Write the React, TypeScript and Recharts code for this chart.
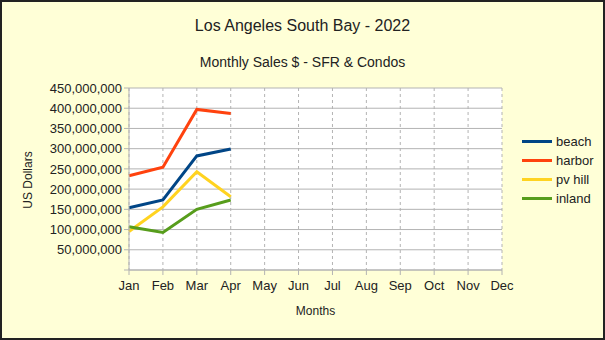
import { LineChart, Line, XAxis, YAxis, CartesianGrid } from 'recharts'

const months = ['Jan', 'Feb', 'Mar', 'Apr', 'May', 'Jun', 'Jul', 'Aug', 'Sep', 'Oct', 'Nov', 'Dec']
const beach = [154000000, 173000000, 282000000, 299000000]
const harbor = [233000000, 254000000, 397000000, 387000000]
const pvHill = [95000000, 156000000, 243000000, 181000000]
const inland = [107000000, 93000000, 150000000, 173000000]
const yTicks = [0, 50000000, 100000000, 150000000, 200000000, 250000000, 300000000, 350000000, 400000000, 450000000]

const seriesList = [
  { key: 'beach', name: 'beach', color: '#004586', values: beach },
  { key: 'harbor', name: 'harbor', color: '#ff420e', values: harbor },
  { key: 'pvhill', name: 'pv hill', color: '#ffd320', values: pvHill },
  { key: 'inland', name: 'inland', color: '#579d1c', values: inland },
]

const data = months.map((m, i) => {
  const row: Record<string, string | number | null> = { month: m }
  seriesList.forEach((s) => {
    row[s.key] = i < s.values.length ? s.values[i] : null
  })
  return row
})

const font = '"Liberation Sans", Arial, sans-serif'
const bg = '#ffffd7'

function LegendBox() {
  return (
    <div style={{ position: 'absolute', left: 522, top: 132, fontSize: 13, color: '#222' }}>
      {seriesList.map((s) => (
        <div key={s.key} style={{ display: 'flex', alignItems: 'center', height: 19 }}>
          <span style={{ display: 'inline-block', width: 30, height: 3, background: s.color, marginRight: 4 }} />
          <span>{s.name}</span>
        </div>
      ))}
    </div>
  )
}

export default function App() {
  return (
    <div style={{ position: 'absolute', left: 0, top: 0, width: 605, height: 340, background: bg, fontFamily: font }}>
      <div style={{ position: 'absolute', top: 17, width: 605, textAlign: 'center', fontSize: 16, color: '#222' }}>
        Los Angeles South Bay - 2022
      </div>
      <div style={{ position: 'absolute', top: 54, width: 605, textAlign: 'center', fontSize: 14, color: '#222' }}>
        Monthly Sales $ - SFR &amp; Condos
      </div>
      <div style={{ position: 'absolute', top: 304, left: 129, width: 373, textAlign: 'center', fontSize: 12, color: '#222' }}>
        Months
      </div>
      <div
        style={{
          position: 'absolute', left: 28, top: 180, fontSize: 12, color: '#222', whiteSpace: 'nowrap',
          transform: 'translate(-50%, -50%) rotate(-90deg)',
        }}
      >
        US Dollars
      </div>
      <LineChart width={605} height={340} data={data} margin={{ top: 88, right: 103, bottom: 0, left: 0 }}>
        <CartesianGrid horizontal vertical={false} stroke="#b3b3b3" fill="#ffffff" />
        <CartesianGrid horizontal={false} vertical stroke="#b3b3b3" strokeDasharray="3 3" />
        <XAxis
          dataKey="month"
          height={70}
          interval={0}
          stroke="#b3b3b3"
          tick={{ fill: '#222', fontSize: 13, fontFamily: font }}
          tickSize={5}
          tickMargin={6}
        />
        <YAxis
          width={129}
          domain={[0, 450000000]}
          ticks={yTicks}
          interval={0}
          stroke="#b3b3b3"
          tickSize={5}
          tick={{ fill: '#222', fontSize: 13, fontFamily: font }}
          tickFormatter={(v: number) => (v === 0 ? '' : v.toLocaleString('en-US'))}
        />
        {seriesList.map((s) => (
          <Line
            key={s.key}
            dataKey={s.key}
            name={s.name}
            stroke={s.color}
            strokeWidth={3}
            dot={false}
            isAnimationActive={false}
          />
        ))}
      </LineChart>
      <LegendBox />
      <div style={{ position: 'absolute', inset: 0, border: '2px solid #222', pointerEvents: 'none' }} />
    </div>
  )
}
